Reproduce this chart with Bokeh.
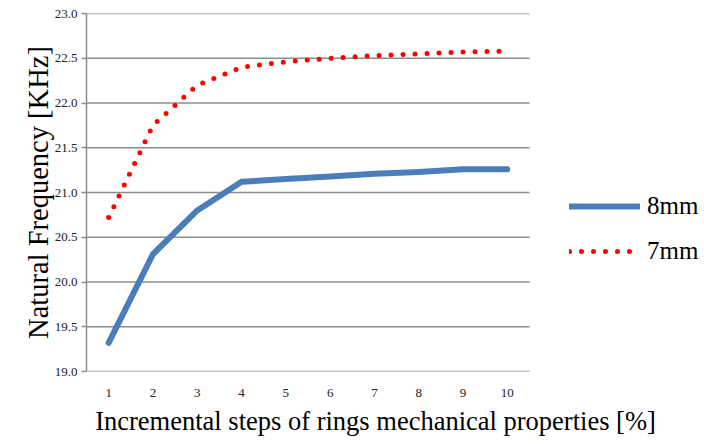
from bokeh.plotting import figure
from bokeh.models import Range1d, FixedTicker, PrintfTickFormatter, Legend, LegendItem, Label
from bokeh.embed import file_html
from bokeh.resources import INLINE

steps = [1, 2, 3, 4, 5, 6, 7, 8, 9, 10]
freq_8mm = [19.32, 20.31, 20.80, 21.12, 21.15, 21.18, 21.21, 21.23, 21.26, 21.26]
freq_7mm = [20.72, 21.75, 22.20, 22.40, 22.46, 22.50, 22.53, 22.55, 22.57, 22.58]
y_ticks = [19.0, 19.5, 20.0, 20.5, 21.0, 21.5, 22.0, 22.5, 23.0]

FONT = "Liberation Serif"
GRID = "#8c8c8c"

# category axis spans 0.5..10.5; the frame is extended to the right to host the legend
X_LO, X_HI = 0.5, 10.5
X_VIEW_HI = 14.36

p = figure(width=704, height=444, output_backend="svg", toolbar_location=None,
           x_range=Range1d(X_LO, X_VIEW_HI), y_range=Range1d(19.0, 23.0),
           min_border_left=86, min_border_right=4, min_border_top=13, min_border_bottom=73)
p.outline_line_color = None
p.background_fill_color = "white"
p.border_fill_color = "white"

p.xgrid.grid_line_color = None
p.ygrid.grid_line_color = None

# horizontal gridlines limited to the category span
p.segment(x0=[X_LO] * len(y_ticks), x1=[X_HI] * len(y_ticks), y0=y_ticks, y1=y_ticks,
          line_color=GRID, line_width=1.5, level="underlay")

p.yaxis.ticker = FixedTicker(ticks=y_ticks)
p.yaxis.formatter = PrintfTickFormatter(format="%.1f")
p.yaxis.axis_line_color = GRID
p.yaxis.axis_line_width = 1.5
p.yaxis.major_tick_line_color = GRID
p.yaxis.major_tick_line_width = 1.5
p.yaxis.major_tick_out = 5
p.yaxis.major_tick_in = 0
p.yaxis.minor_tick_line_color = None
p.yaxis.major_label_standoff = 4
p.yaxis.major_label_text_font = FONT
p.yaxis.major_label_text_font_size = "13px"
p.yaxis.major_label_text_color = "#222222"
p.yaxis.axis_label = "Natural Frequency [KHz]"
p.yaxis.axis_label_text_font = FONT
p.yaxis.axis_label_text_font_size = "28.5px"
p.yaxis.axis_label_text_font_style = "normal"
p.yaxis.axis_label_text_color = "black"
p.yaxis.axis_label_standoff = -2

p.xaxis.ticker = FixedTicker(ticks=steps)
p.xaxis.axis_line_color = None
p.xaxis.major_tick_line_color = None
p.xaxis.minor_tick_line_color = None
p.xaxis.major_label_standoff = 11
p.xaxis.major_label_text_font = FONT
p.xaxis.major_label_text_font_size = "13px"
p.xaxis.major_label_text_color = "#222222"

xlabel = Label(x=289, y=9, x_units="screen", y_units="screen",
               text="Incremental steps of rings mechanical properties [%]",
               text_align="center", text_baseline="middle",
               text_font=FONT, text_font_size="26.5px", text_color="black")
p.add_layout(xlabel, "below")

r8 = p.line(steps, freq_8mm, line_color="#4a7ebb", line_width=6, line_cap="round", line_join="round")
r7 = p.line(steps, freq_7mm, line_color="#ff0000", line_width=5, line_cap="round",
            line_dash="0 12")

legend = Legend(items=[LegendItem(label="8mm", renderers=[r8]),
                       LegendItem(label="7mm", renderers=[r7])],
                location=(483, 106))
legend.border_line_color = None
legend.background_fill_alpha = 0
legend.glyph_width = 71
legend.glyph_height = 20
legend.spacing = 17
legend.label_standoff = 7
legend.padding = 0
legend.margin = 0
legend.label_text_font = FONT
legend.label_text_font_size = "25px"
legend.label_text_color = "black"
p.add_layout(legend, "center")

open("out.html", "w").write(file_html(p, INLINE))
